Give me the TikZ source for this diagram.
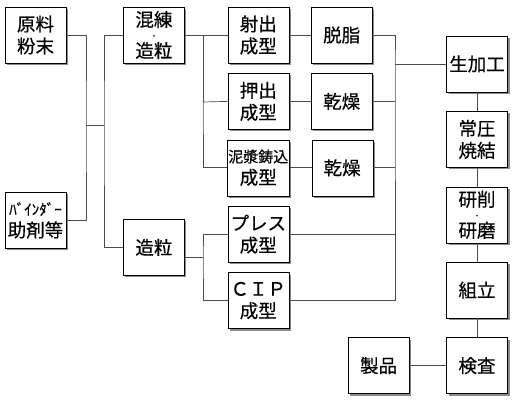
\documentclass[tikz,border=0pt]{standalone}
\usepackage{fontspec}
\newfontfamily\jpfont[UprightFeatures={FakeBold=0.4}]{Noto Sans CJK JP}
\usepackage{tikz}
\usetikzlibrary{positioning,shadows,calc}

\begin{document}
\begin{tikzpicture}[
  x=1pt, y=-1pt,
  font=\jpfont\fontsize{18.5}{22}\selectfont,
  box/.style={draw, fill=white, align=center, minimum width=61pt, minimum height=56pt, inner sep=1pt,
    drop shadow={shadow xshift=2pt, shadow yshift=-2pt, fill=black!45, opacity=1}},
  link/.style={draw=black!70, line width=0.7pt},
  node distance=10pt and 22pt]
\useasboundingbox (0,0) rectangle (514,401);
% raw materials
\node[box] (genryo) at (35.5,35) {原料\\粉末};
\node[box, below=129pt of genryo] (binder) {{\fontsize{15}{20}\selectfont ﾊﾞｲﾝﾀﾞｰ}\\助剤等};
% mixing / granulation
\node[box, right=57pt of genryo] (konren) {混練\\[-10pt]{\fontsize{7}{7}\selectfont ・}\\[-3pt]造粒};
\node[box, below=156pt of konren] (zoryu) {造粒};
% forming
\node[box, right=43pt of konren] (shashutsu) {射出\\成型};
\node[box, below=of shashutsu] (oshidashi) {押出\\成型};
\node[box, below=of oshidashi] (deisho) {{\fontsize{15}{20}\selectfont 泥漿鋳込}\\成型};
\node[box, below=of deisho] (press) {プレス\\成型};
\node[box, below=of press] (cip) {ＣＩＰ\\成型};
\node[box, right=of shashutsu] (dasshi) {脱脂};
\node[box, right=of oshidashi] (kanso) {乾燥};
\node[box, right=of deisho] (kansob) {乾燥};
% finishing
\node[box] (namakako) at (477,64) {生加工};
\node[box, below=19pt of namakako] (joatsu) {常圧\\焼結};
\node[box, below=19pt of joatsu] (kensaku) {研削\\[-10pt]{\fontsize{7}{7}\selectfont ・}\\[-3pt]研磨};
\node[box, below=19pt of kensaku] (kumitate) {組立};
\node[box, below=19pt of kumitate] (kensa) {検査};
\node[box, left=37pt of kensa] (seihin) {製品};
% junctions
\coordinate (jA) at (86,125);
\coordinate (jB) at (104,125);
\coordinate (jC) at (203,102);
\coordinate (jD) at (203,257);
\coordinate (jR) at (395,64);
\begin{scope}[on background layer/.try]
\draw[link] (genryo.east) -| (jA) |- (binder.east);
\draw[link] (jA) -- (jB);
\draw[link] (konren.west) -| (jB) |- (zoryu.west);
\draw[link] (konren.east) -| (jC);
\draw[link] (shashutsu.west) -| (jC) |- (deisho.west);
\draw[link] (oshidashi.west) -- (jC);
\draw[link] (zoryu.east |- jD) -- (jD);
\draw[link] (press.west) -| (jD) |- (cip.west);
\draw[link] (shashutsu) -- (dasshi);
\draw[link] (oshidashi) -- (kanso);
\draw[link] (deisho) -- (kansob);
\draw[link] (dasshi.east) -| (jR) |- (cip.east);
\draw[link] (kanso.east) -- (kanso.east -| jR);
\draw[link] (kansob.east) -- (kansob.east -| jR);
\draw[link] (press.east) -- (press.east -| jR);
\draw[link] (jR) -- (namakako.west);
\draw[link] (namakako) -- (joatsu);
\draw[link] (joatsu) -- (kensaku);
\draw[link] (kensaku) -- (kumitate);
\draw[link] (kumitate) -- (kensa);
\draw[link] (seihin) -- (kensa);
\end{scope}
\end{tikzpicture}
\end{document}
